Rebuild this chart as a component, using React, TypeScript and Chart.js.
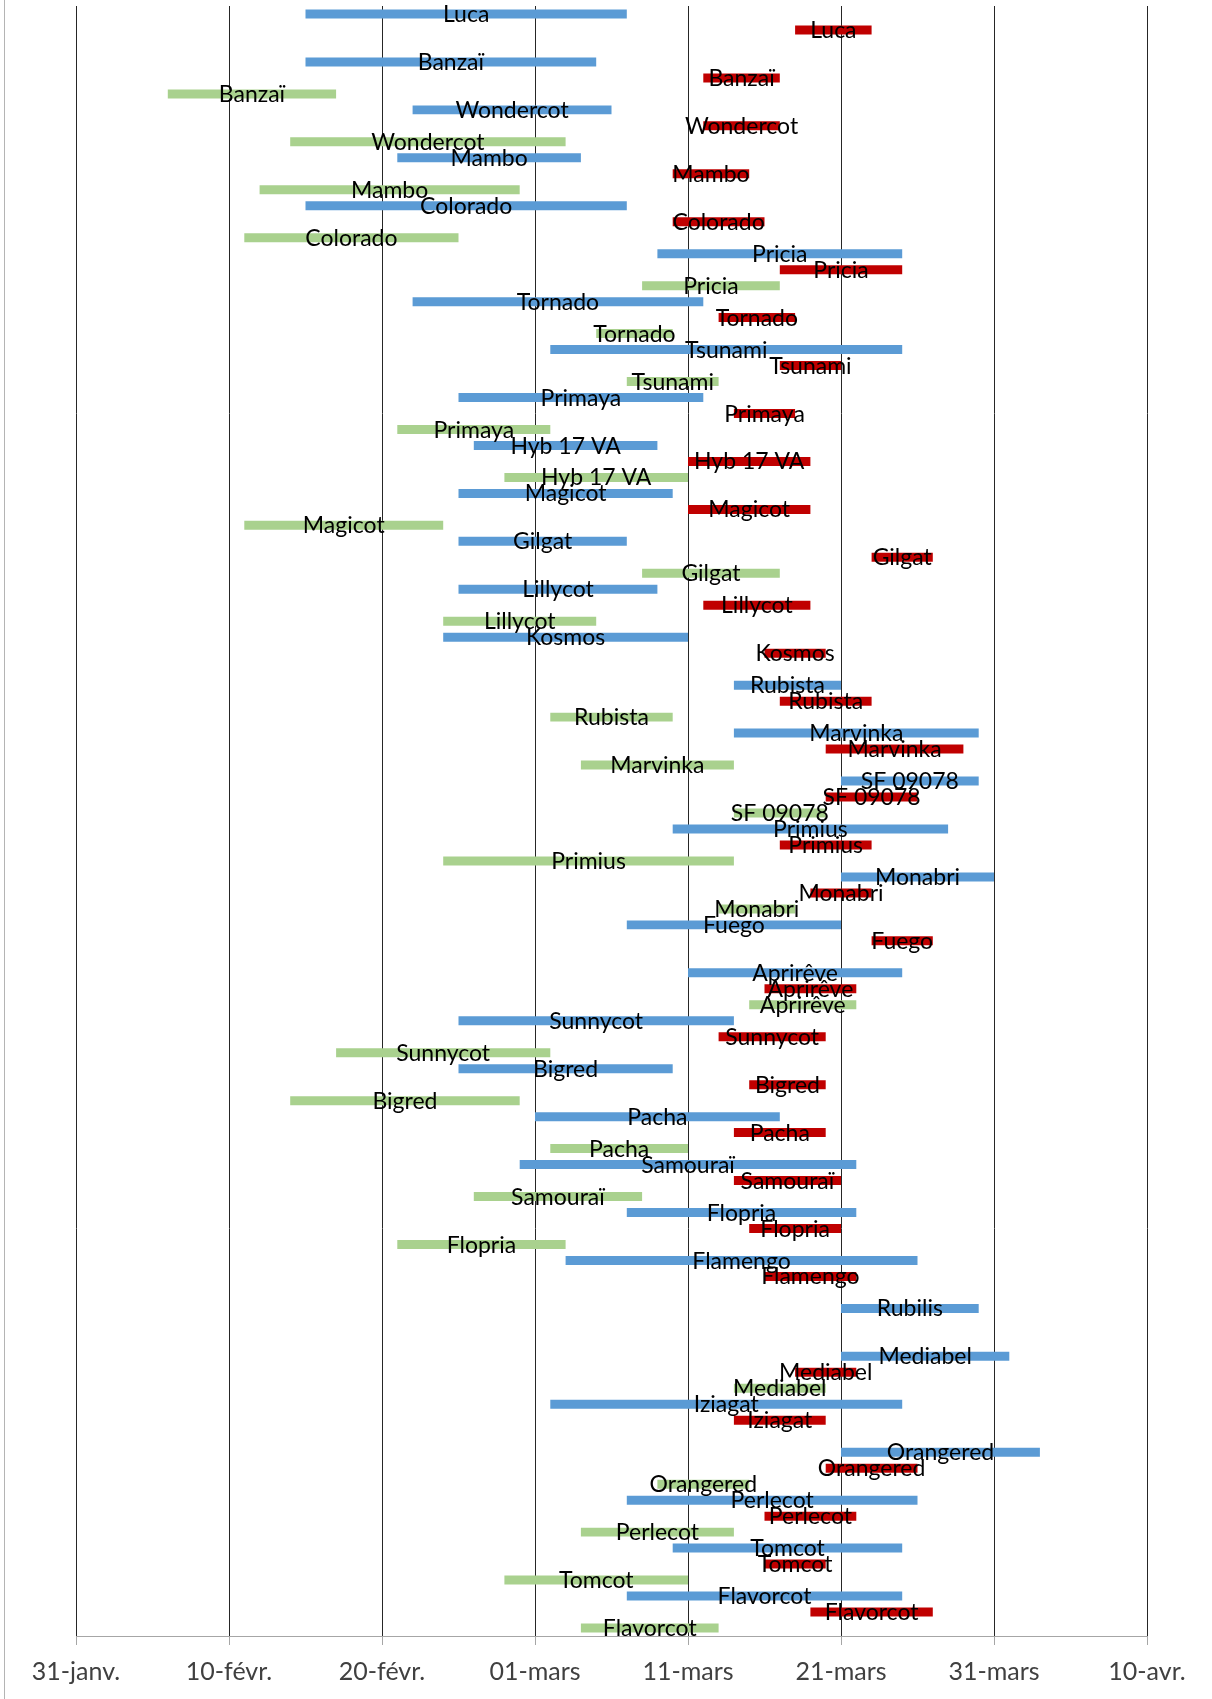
import React, { useEffect, useRef } from 'react';
import { Chart, registerables } from 'chart.js';

Chart.register(...registerables);

// Varieties (one group of three bars each: blue, red, green)
const varieties = [
  'Luca', 'Banzaï', 'Wondercot', 'Mambo', 'Colorado', 'Pricia', 'Tornado', 'Tsunami',
  'Primaya', 'Hyb 17 VA', 'Magicot', 'Gilgat', 'Lillycot', 'Kosmos', 'Rubista', 'Marvinka',
  'SF 09078', 'Primius', 'Monabri', 'Fuego', 'Aprirêve', 'Sunnycot', 'Bigred', 'Pacha',
  'Samouraï', 'Flopria', 'Flamengo', 'Rubilis', 'Mediabel', 'Iziagat', 'Orangered',
  'Perlecot', 'Tomcot', 'Flavorcot',
];

// Flowering periods, [start, end] as "MM-DD" (year 2012)
type Period = [string, string] | null;

const bluePeriods: Period[] = [
  ['02-15', '03-07'], ['02-15', '03-05'], ['02-22', '03-06'], ['02-21', '03-04'],
  ['02-15', '03-07'], ['03-09', '03-25'], ['02-22', '03-12'], ['03-02', '03-25'],
  ['02-25', '03-12'], ['02-26', '03-09'], ['02-25', '03-10'], ['02-25', '03-07'],
  ['02-25', '03-09'], ['02-24', '03-11'], ['03-14', '03-21'], ['03-14', '03-30'],
  ['03-21', '03-30'], ['03-10', '03-28'], ['03-21', '03-31'], ['03-07', '03-21'],
  ['03-11', '03-25'], ['02-25', '03-14'], ['02-25', '03-10'], ['03-01', '03-17'],
  ['02-29', '03-22'], ['03-07', '03-22'], ['03-03', '03-26'], ['03-21', '03-30'],
  ['03-21', '04-01'], ['03-02', '03-25'], ['03-21', '04-03'], ['03-07', '03-26'],
  ['03-10', '03-25'], ['03-07', '03-25'],
];

const redPeriods: Period[] = [
  ['03-18', '03-23'], ['03-12', '03-17'], ['03-12', '03-17'], ['03-10', '03-15'],
  ['03-10', '03-16'], ['03-17', '03-25'], ['03-13', '03-18'], ['03-17', '03-21'],
  ['03-14', '03-18'], ['03-11', '03-19'], ['03-11', '03-19'], ['03-23', '03-27'],
  ['03-12', '03-19'], ['03-16', '03-20'], ['03-17', '03-23'], ['03-20', '03-29'],
  ['03-20', '03-26'], ['03-17', '03-23'], ['03-19', '03-23'], ['03-23', '03-27'],
  ['03-16', '03-22'], ['03-13', '03-20'], ['03-15', '03-20'], ['03-14', '03-20'],
  ['03-14', '03-21'], ['03-15', '03-21'], ['03-16', '03-22'], null,
  ['03-18', '03-22'], ['03-14', '03-20'], ['03-20', '03-26'], ['03-16', '03-22'],
  ['03-16', '03-20'], ['03-19', '03-27'],
];

const greenPeriods: Period[] = [
  null, ['02-06', '02-17'], ['02-14', '03-03'], ['02-12', '02-29'],
  ['02-11', '02-25'], ['03-08', '03-17'], ['03-05', '03-10'], ['03-07', '03-13'],
  ['02-21', '03-02'], ['02-28', '03-11'], ['02-11', '02-24'], ['03-08', '03-17'],
  ['02-24', '03-05'], null, ['03-02', '03-10'], ['03-04', '03-14'],
  ['03-14', '03-20'], ['02-24', '03-14'], ['03-13', '03-18'], null,
  ['03-15', '03-22'], ['02-17', '03-02'], ['02-14', '02-29'], ['03-02', '03-11'],
  ['02-26', '03-08'], ['02-21', '03-03'], null, null,
  ['03-14', '03-20'], null, ['03-09', '03-15'], ['03-04', '03-14'],
  ['02-28', '03-11'], ['03-04', '03-13'],
];

// X axis tick labels, one every 10 days from 31 January
const tickLabels = ['31-janv.', '10-févr.', '20-févr.', '01-mars', '11-mars', '21-mars', '31-mars', '10-avr.'];

const ORIGIN = Date.UTC(2012, 0, 31);
function dayOffset(md: string): number {
  const [m, d] = md.split('-').map(Number);
  return (Date.UTC(2012, m - 1, d) - ORIGIN) / 86400000;
}
function toRanges(list: Period[]) {
  return list.map((p) => (p ? [dayOffset(p[0]), dayOffset(p[1])] : null));
}

const LABEL_FONT_SIZE = 23;

const barLabelPlugin = {
  id: 'barLabels',
  afterDatasetsDraw(chart: any) {
    const ctx = chart.ctx;
    ctx.save();
    ctx.font = `${LABEL_FONT_SIZE}px Lato`;
    ctx.fillStyle = '#000000';
    ctx.textAlign = 'center';
    ctx.textBaseline = 'alphabetic';
    chart.data.datasets.forEach((ds: any, di: number) => {
      const meta = chart.getDatasetMeta(di);
      meta.data.forEach((el: any, i: number) => {
        if (ds.data[i] == null) return;
        const p = el.getCenterPoint();
        ctx.fillText(varieties[i], p.x, p.y + LABEL_FONT_SIZE * 0.35);
      });
    });
    ctx.restore();
  },
};

export default function App() {
  const canvasRef = useRef<HTMLCanvasElement | null>(null);

  useEffect(() => {
    if (!canvasRef.current) return;
    const chart = new Chart(canvasRef.current, {
      type: 'bar',
      data: {
        labels: varieties,
        datasets: [
          { label: 'blue', data: toRanges(bluePeriods) as any, backgroundColor: '#5B9BD5' },
          { label: 'red', data: toRanges(redPeriods) as any, backgroundColor: '#C00000' },
          { label: 'green', data: toRanges(greenPeriods) as any, backgroundColor: '#A9D18E' },
        ],
      },
      options: {
        indexAxis: 'y',
        animation: false,
        responsive: true,
        maintainAspectRatio: false,
        events: [],
        datasets: {
          bar: { categoryPercentage: 1, barPercentage: 0.5625, borderWidth: 0 },
        },
        layout: { padding: { left: 76, right: 65, top: 6, bottom: 0 } },
        plugins: {
          legend: { display: false },
          tooltip: { enabled: false },
        },
        scales: {
          y: { type: 'category', display: false },
          x: {
            type: 'linear',
            position: 'bottom',
            min: 0,
            max: 70,
            ticks: {
              stepSize: 10,
              padding: 12,
              color: '#404040',
              font: { family: 'Lato', size: 25 },
              callback: (v: any) => tickLabels[Math.round(Number(v) / 10)] ?? '',
              maxRotation: 0,
              autoSkip: false,
            },
            grid: {
              color: '#262626',
              lineWidth: 1,
              tickColor: '#a6a6a6',
              tickLength: 9,
            },
            border: { color: '#a6a6a6', width: 1 },
          },
        },
      },
      plugins: [barLabelPlugin],
    });
    return () => chart.destroy();
  }, []);

  return (
    <div style={{ position: 'absolute', left: 0, top: 0, width: 1212, height: 1699, background: '#ffffff' }}>
      <div style={{ position: 'absolute', left: 4, top: 0, width: 1, height: 1699, background: '#b4b4b4' }} />
      <div style={{ position: 'absolute', left: 0, top: 0, width: 1212, height: 1699 }}>
        <canvas ref={canvasRef} />
      </div>
    </div>
  );
}
